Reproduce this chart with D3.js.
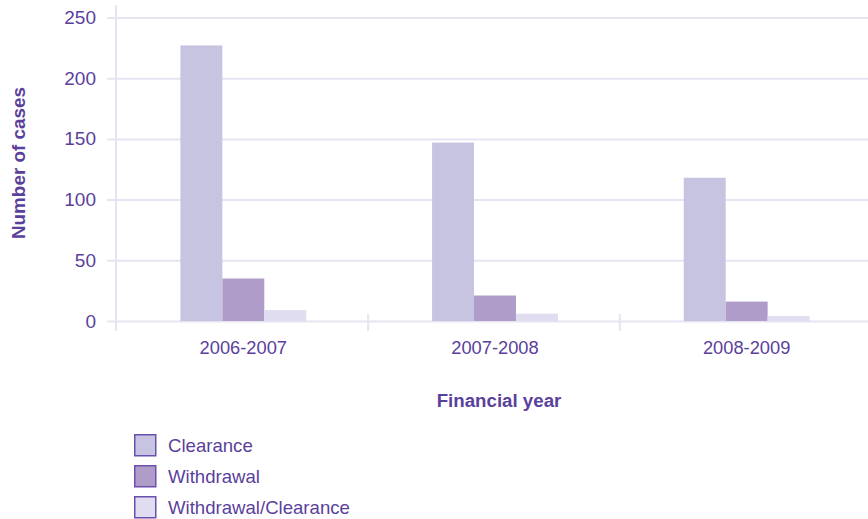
<!DOCTYPE html>
<html>
<head>
<meta charset="utf-8">
<script src="https://cdn.jsdelivr.net/npm/d3@7/dist/d3.min.js"></script>
<style>
  html, body { margin: 0; padding: 0; background: #ffffff; }
  svg { display: block; font-family: "Liberation Sans", Arial, sans-serif; }
</style>
</head>
<body>
<svg id="chart" width="868" height="519"></svg>
<script>
// Cases per financial year, by outcome
const years = ["2006-2007", "2007-2008", "2008-2009"];
const seriesNames = ["Clearance", "Withdrawal", "Withdrawal/Clearance"];
const clearance = [227, 147, 118];
const withdrawal = [35, 21, 16];
const withdrawalClearance = [9, 6, 4];
const yTicks = [0, 50, 100, 150, 200, 250];

const seriesValues = [clearance, withdrawal, withdrawalClearance];
const colors = ["#c7c4e1", "#b09cc9", "#dfddef"];
const textColor = "#5b3f9c";
const gridColor = "#e6e3f2";

(function draw() {
  const svg = d3.select("#chart");
  const plotLeft = 116, plotTop = 17.5, plotBottom = 321;

  const x = d3.scaleBand().domain(years).range([117.5, 872.5]).padding(0);
  const xInner = d3.scaleBand().domain(seriesNames).range([0, x.bandwidth()])
    .paddingInner(0).paddingOuter(1.5);
  const y = d3.scaleLinear().domain([0, 250]).range([plotBottom, plotTop]);

  // horizontal gridlines with short ticks left of the axis
  const gy = svg.append("g").attr("transform", `translate(${plotLeft},0)`)
    .call(d3.axisLeft(y).tickValues(yTicks).tickSize(-(868 - plotLeft)).tickPadding(20));
  gy.select(".domain").remove();
  gy.selectAll(".tick line").attr("stroke", gridColor).attr("stroke-width", 2).attr("x1", -9);
  gy.selectAll(".tick text").attr("fill", textColor).attr("font-size", 19)
    .attr("font-family", "Liberation Sans, Arial, sans-serif");

  // vertical axis line
  svg.append("line").attr("x1", plotLeft).attr("x2", plotLeft).attr("y1", 5).attr("y2", 331)
    .attr("stroke", gridColor).attr("stroke-width", 2);

  // category separator ticks
  svg.selectAll(".sep").data(years.slice(1)).enter().append("line")
    .attr("x1", d => x(d) - 1).attr("x2", d => x(d) - 1).attr("y1", 314).attr("y2", 331)
    .attr("stroke", gridColor).attr("stroke-width", 2);

  // bars
  const groups = svg.selectAll(".grp").data(years).enter().append("g")
    .attr("transform", d => `translate(${x(d)},0)`);
  groups.selectAll("rect")
    .data((d, i) => seriesNames.map((s, k) => ({ s, k, v: seriesValues[k][i] })))
    .enter().append("rect")
    .attr("x", d => xInner(d.s))
    .attr("width", xInner.bandwidth())
    .attr("y", d => y(d.v))
    .attr("height", d => y(0) - y(d.v))
    .attr("fill", d => colors[d.k]);

  // x tick labels
  svg.selectAll(".xl").data(years).enter().append("text")
    .attr("x", d => x(d) + x.bandwidth() / 2)
    .attr("y", 354)
    .attr("text-anchor", "middle")
    .attr("fill", textColor).attr("font-size", 18.3)
    .text(d => d);

  // axis titles
  svg.append("text").attr("x", 499).attr("y", 407).attr("text-anchor", "middle")
    .attr("fill", textColor).attr("font-size", 18.7).attr("font-weight", "bold")
    .text("Financial year");
  svg.append("text").attr("transform", "translate(25,163) rotate(-90)").attr("text-anchor", "middle")
    .attr("fill", textColor).attr("font-size", 18.9).attr("font-weight", "bold")
    .text("Number of cases");

  // legend
  const legend = svg.selectAll(".lg").data(seriesNames).enter().append("g")
    .attr("transform", (d, i) => `translate(134,${434 + i * 31})`);
  legend.append("rect").attr("x", 0.75).attr("y", 0.75).attr("width", 21).attr("height", 21)
    .attr("fill", (d, i) => colors[i]).attr("stroke", "#6a4fae").attr("stroke-width", 1.5);
  legend.append("text").attr("x", 34).attr("y", 17.5)
    .attr("fill", textColor).attr("font-size", 18.6).text(d => d);
})();
</script>
</body>
</html>
